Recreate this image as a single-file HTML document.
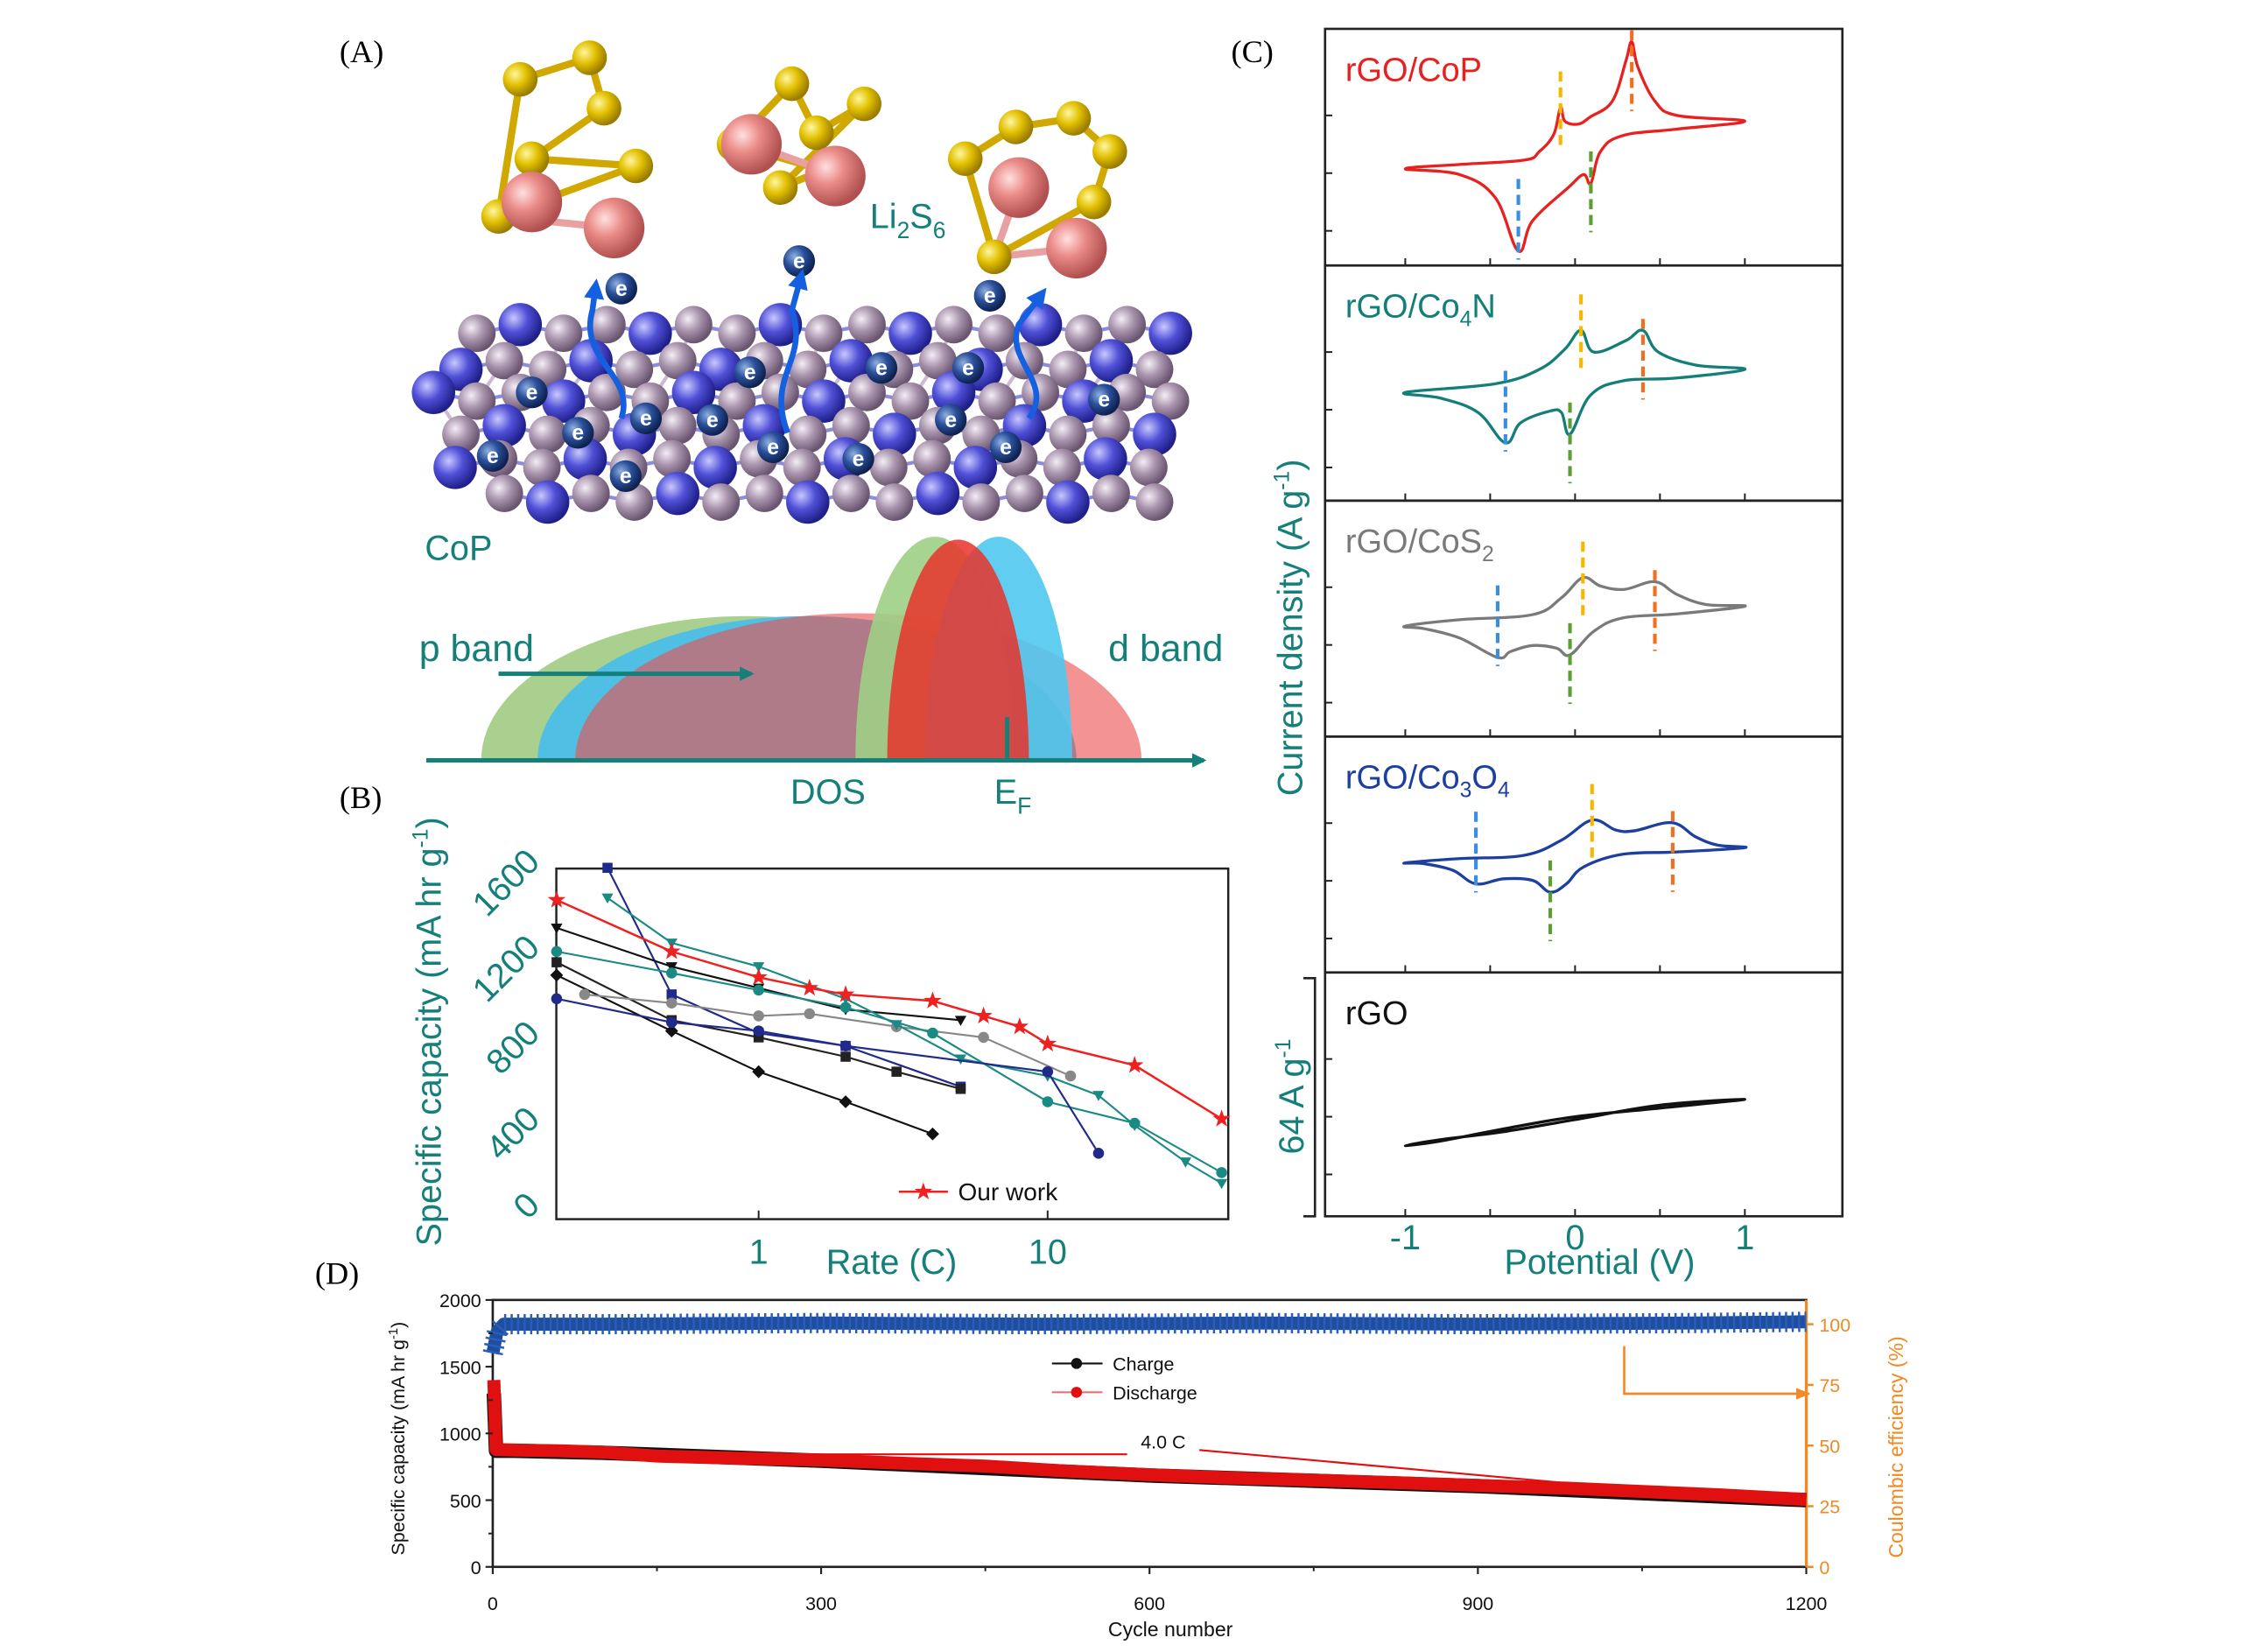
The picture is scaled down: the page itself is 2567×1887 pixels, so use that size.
<!DOCTYPE html>
<html><head><meta charset="utf-8">
<style>
html,body{margin:0;padding:0;background:#fff;}
svg{display:block;}
text{font-family:"Liberation Sans",sans-serif;}
.tnr{font-family:"Liberation Serif",serif;}
</style></head>
<body>
<svg id="fig" xmlns="http://www.w3.org/2000/svg" width="2567" height="1887" viewBox="0 0 1555 1145" preserveAspectRatio="none">
<defs>
<radialGradient id="gY" cx="35%" cy="35%" r="65%"><stop offset="0" stop-color="#fff6a0"/><stop offset="0.5" stop-color="#e2c000"/><stop offset="1" stop-color="#9a7c00"/></radialGradient>
<radialGradient id="gP" cx="35%" cy="35%" r="65%"><stop offset="0" stop-color="#ffe0e0"/><stop offset="0.45" stop-color="#ea8a86"/><stop offset="1" stop-color="#b05050"/></radialGradient>
<radialGradient id="gM" cx="35%" cy="35%" r="65%"><stop offset="0" stop-color="#f4eef6"/><stop offset="0.5" stop-color="#a994ad"/><stop offset="1" stop-color="#6a5570"/></radialGradient>
<radialGradient id="gB" cx="35%" cy="35%" r="65%"><stop offset="0" stop-color="#c8c8ff"/><stop offset="0.5" stop-color="#5050d8"/><stop offset="1" stop-color="#20208a"/></radialGradient>
<radialGradient id="gE" cx="35%" cy="35%" r="65%"><stop offset="0" stop-color="#8fb0e0"/><stop offset="0.5" stop-color="#2a4f9a"/><stop offset="1" stop-color="#0e2250"/></radialGradient>
<marker id="arrTeal" markerWidth="10" markerHeight="10" refX="8" refY="5" orient="auto" markerUnits="userSpaceOnUse"><path d="M0,0 L10,5 L0,10 Z" fill="#15807a"/></marker>
<marker id="arrOr" markerWidth="10" markerHeight="8" refX="9" refY="4" orient="auto" markerUnits="userSpaceOnUse"><path d="M0,0 L10,4 L0,8 Z" fill="#f08a24"/></marker>
<marker id="arrBlue" markerWidth="14" markerHeight="14" refX="7" refY="7" orient="auto" markerUnits="userSpaceOnUse"><path d="M0,0 L14,7 L0,14 Z" fill="#1560e0"/></marker>
</defs>

<text class="tnr" x="235" y="43" font-size="22">(A)</text>
<text class="tnr" x="235" y="560" font-size="22">(B)</text>
<text class="tnr" x="852" y="43" font-size="22">(C)</text>
<text class="tnr" x="218" y="890" font-size="22">(D)</text>

<g id="panelA"></g>
<g id="panelB"></g>
<g id="panelC"></g>
<g id="panelD"></g>
</svg>

<script>
const NS="http://www.w3.org/2000/svg";
function mk(parent,tag,attrs,txt){const e=document.createElementNS(NS,tag);for(const k in attrs)e.setAttribute(k,attrs[k]);if(txt!==undefined)e.textContent=txt;parent.appendChild(e);return e;}

/* ================= Panel B data ================= */
const rateOurWork=[0.2,0.5,1,1.5,2,4,6,8,10,20,40];
const capOurWork=[1440,1200,1080,1030,1000,970,900,850,770,670,420];
const rateRefs=[
 [0.3,0.5,1,2,5],
 [0.2,0.5,1,2,5],
 [0.2,0.5,1,2,4],
 [0.2,0.5,1,2,3,5],
 [0.25,0.5,1,1.5,3,6,12],
 [0.3,0.5,1,2,3,5,10,15,20,30,40],
 [0.2,0.5,1,2,4,10,20,40],
 [0.2,0.5,1,2,10,15]
];
const capRefs=[
 [1590,1000,820,760,570],
 [1310,1130,1030,930,880],
 [1090,830,640,500,350],
 [1150,880,800,710,640,560],
 [1000,960,900,910,850,800,620],
 [1450,1240,1130,980,860,700,620,530,390,220,120],
 [1200,1100,1020,940,820,500,400,170],
 [980,870,830,760,640,260]
];
const refColors=["#1f2a8a","#111111","#111111","#222222","#888888","#1a8a84","#1a8a84","#1f2a8a"];
const refMarkers=["square","tri","diamond","square","circle","tri","circle","circle"];
const bTicksX=[1,10];
const bTicksY=[0,400,800,1200,1600];

/* ================= Panel C data ================= */
const cvLabels=["rGO/CoP","rGO/Co4N","rGO/CoS2","rGO/Co3O4","rGO"];
const cvPotCoP=[-1,-0.68,-0.47,-0.334,-0.25,-0.04,0.05,0.093,0.15,0.28,0.6,1,0.6,0.47,0.37,0.334,0.30,0.22,0.09,0.02,-0.06,-0.086,-0.125,-0.21,-0.3,-0.68,-1];
const cvCurCoP=[3,-1,-17,-54,-33,-10,-1,-7,15,26,30.5,36,40,50,73.5,91,78,50,39,34,36,45.5,27,15,9,6,3];
const cvPotCo4N=[-1,-0.47,-0.21,-0.06,0.035,0.11,0.30,0.40,0.49,0.71,1,0.6,0.28,0.09,-0.03,-0.08,-0.15,-0.32,-0.41,-0.57,-0.79,-1];
const cvCurCo4N=[12,18,28,42,55,40,48,55,40,31,28,22,20,10,-17,-2,-1,-9,-23,-2,8,12];
const cvPotCoS2=[-1,-0.68,-0.25,-0.08,0.046,0.15,0.29,0.47,0.6,0.77,1,0.6,0.28,0.11,-0.03,-0.11,-0.25,-0.38,-0.456,-0.68,-0.89,-1];
const cvCurCoS2=[13,17.5,21,32.7,46.6,40.8,38.5,43.8,35,28,26.8,21.5,18.7,9.4,-6.9,-2.2,-0.4,-4.6,-8.7,4.8,11.3,13];
const cvPotCo3O4=[-1,-0.68,-0.30,-0.08,0.10,0.24,0.35,0.57,0.71,0.84,1,0.6,0.28,0.05,-0.05,-0.146,-0.25,-0.42,-0.584,-0.72,-0.89,-1];
const cvCurCo3O4=[12.4,15.4,17.7,28.2,42.1,35.2,34.7,40.3,30.5,24.7,23,20,18.4,9.6,-2,-7.9,0.3,1.4,-2.1,7.3,11.9,12.4];
const cvPotRGO=[-1,-0.8,-0.4,0,0.5,1,0.5,0,-0.4,-0.8,-1];
const cvCurRGO=[-20,-17,-8,0,6,12,8,-2,-10,-16,-20];
const peakYellow=[-0.086,0.035,0.046,0.10];
const peakOrange=[0.334,0.40,0.47,0.575];
const peakBlue=[-0.334,-0.41,-0.456,-0.584];
const peakGreen=[0.093,-0.03,-0.03,-0.146];
const cTicksX=[-1,0,1];

/* ================= Panel D data ================= */
const cycleDis=[1,3,20,60,100,150,220,300,380,450,520,600,680,750,830,900,980,1050,1120,1200];
const capDis=[1400,880,875,870,860,830,815,800,775,755,720,690,665,650,630,610,590,565,540,505];
const cycleCha=[1,3,20,100,300,600,900,1200];
const capCha=[1300,870,870,855,795,685,605,500];
const cycleCE=[0,4,10,100,300,500,700,900,1100,1200];
const ceVals=[88,97,100,100,100.5,100,100.5,100,100.5,101];
const dTicksX=[0,300,600,900,1200];
const dTicksYL=[0,500,1000,1500,2000];
const dTicksYR=[0,25,50,75,100];

function smoothPath(pts,closed){
  let d="M"+pts[0][0].toFixed(2)+","+pts[0][1].toFixed(2);
  const n=pts.length;
  for(let i=0;i<n-1;i++){
    const p0=pts[i>0?i-1:(closed?n-2:i)],p1=pts[i],p2=pts[i+1],p3=pts[i+2<n?i+2:(closed?1:i+1)];
    const t=0.18;
    const c1=[p1[0]+(p2[0]-p0[0])*t,p1[1]+(p2[1]-p0[1])*t];
    const c2=[p2[0]-(p3[0]-p1[0])*t,p2[1]-(p3[1]-p1[1])*t];
    d+=" C"+c1[0].toFixed(2)+","+c1[1].toFixed(2)+" "+c2[0].toFixed(2)+","+c2[1].toFixed(2)+" "+p2[0].toFixed(2)+","+p2[1].toFixed(2);
  }
  return d;
}

/* ================= Panel A ================= */
(function(){
  const g=document.getElementById('panelA');
  const base=527;
  function half(x1,x2,h,fill,op,name){
    const rx=(x2-x1)/2;
    const p=mk(g,'path',{d:`M${x1},${base} A${rx},${h} 0 0 1 ${x2},${base} Z`,fill:fill,'fill-opacity':op});
    
    
  }
  half(333,700,100,'#a9d08e',1,'p-band-green');
  half(372,745,100,'#4fc0e4',1,'p-band-blue');
  half(398,790,102,'#ec5050',0.62,'p-band-red');
  half(592,702,155,'#9fcf86',0.9,'d-band-green');
  half(640,742,155,'#4fc8f0',0.9,'d-band-blue');
  half(614,712,153,'#e8322a',0.85,'d-band-red');
  const ax=mk(g,'line',{x1:295,y1:base,x2:833,y2:base,stroke:'#15807a','stroke-width':3,'marker-end':'url(#arrTeal)'});
  
  const ar=mk(g,'line',{x1:345,y1:467,x2:520,y2:467,stroke:'#15807a','stroke-width':3,'marker-end':'url(#arrTeal)'});
  
  const ef=mk(g,'line',{x1:697,y1:497,x2:697,y2:527,stroke:'#15807a','stroke-width':3});
  
  let t;
  t=mk(g,'text',{x:290,y:458,'font-size':26,fill:'#15807a'},'p band');
  t=mk(g,'text',{x:767,y:458,'font-size':26,fill:'#15807a'},'d band');
  t=mk(g,'text',{x:547,y:557,'font-size':24,fill:'#15807a'},'DOS');
  t=mk(g,'text',{x:688,y:557,'font-size':24,fill:'#15807a'},'E');
  mk(t,'tspan',{dy:7,'font-size':16},'F');
  t=mk(g,'text',{x:294,y:388,'font-size':24,fill:'#15807a'},'CoP');
  t=mk(g,'text',{x:602,y:158,'font-size':24,fill:'#15807a'},'Li');
  mk(t,'tspan',{dy:7,'font-size':16},'2');mk(t,'tspan',{dy:-7},'S');mk(t,'tspan',{dy:7,'font-size':16},'6');

  const slab=mk(g,'g',{});
  
  const bonds=mk(slab,'g',{stroke:'#7070d8','stroke-width':2.5,opacity:0.8});
  const rows=[[225,330,820,0],[250,305,825,1],[272,300,830,0],[295,305,825,1],[318,315,815,0],[342,335,800,1]];
  const atoms=[];
  rows.forEach((r,ri)=>{
    for(let x=r[1]+(ri%2)*14;x<=r[2];x+=30){
      const blue=((Math.round(x/30)+ri)%3===0);
      atoms.push([x,r[0]+((Math.round(x/30))%2)*6,blue]);
    }
  });
  atoms.forEach((a,i)=>{const b=atoms[i+1];if(b&&Math.abs(b[1]-a[1])<15)mk(bonds,'line',{x1:a[0],y1:a[1],x2:b[0],y2:b[1]});
    const c=atoms.find(q=>q[1]>a[1]+12&&Math.abs(q[0]-a[0])<20);if(c)mk(bonds,'line',{x1:a[0],y1:a[1],x2:c[0],y2:c[1],stroke:'#c0a8c8'});});
  atoms.forEach(a=>mk(slab,'circle',{cx:a[0],cy:a[1],r:a[2]?15:13,fill:a[2]?'url(#gB)':'url(#gM)'}));
  const els=[[368,272],[400,300],[447,290],[493,291],[341,316],[433,330],[519,258],[535,310],[594,318],[610,255],[670,255],[658,291],[696,310],[764,277],[430,200],[553,181],[685,205]];
  els.forEach(p=>{mk(slab,'circle',{cx:p[0],cy:p[1],r:11,fill:'url(#gE)'});
    mk(slab,'text',{x:p[0],y:p[1]+5,'font-size':15,'font-weight':'bold',fill:'#fff','text-anchor':'middle','font-family':'Liberation Serif,serif'},'e');});
  ['M430,290 C440,260 400,250 410,215 L412,200','M545,300 C530,260 560,250 548,215 L554,193','M712,290 C730,265 695,250 705,225 L720,205'].forEach(d=>{
    mk(slab,'path',{d:d,fill:'none',stroke:'#1560e0','stroke-width':4,'marker-end':'url(#arrBlue)'});
  });

  const mol=mk(g,'g',{});
  
  const mols=[
    {S:[[360,55],[408,40],[418,75],[368,110],[440,115],[345,150]],L:[[368,140],[425,158]]},
    {S:[[508,100],[548,58],[565,92],[598,72],[540,130],[570,118]],L:[[520,100],[578,122]]},
    {S:[[668,110],[703,88],[743,82],[768,105],[757,140],[688,178]],L:[[705,130],[745,172]]}
  ];
  mols.forEach(m=>{
    for(let i=0;i<m.S.length;i++){const a=m.S[i],b=m.S[(i+1)%m.S.length];mk(mol,'line',{x1:a[0],y1:a[1],x2:b[0],y2:b[1],stroke:'#d0a800','stroke-width':5});}
    m.L.forEach(l=>{const s=m.S[m.S.length-1];mk(mol,'line',{x1:l[0],y1:l[1],x2:s[0],y2:s[1],stroke:'#e8a0a0','stroke-width':5});});
    m.S.forEach(s=>mk(mol,'circle',{cx:s[0],cy:s[1],r:12,fill:'url(#gY)'}));
    m.L.forEach(s=>mk(mol,'circle',{cx:s[0],cy:s[1],r:21,fill:'url(#gP)'}));
  });
})();

/* ================= Panel B ================= */
(function(){
  const g=document.getElementById('panelB');
  const X0=385,X1=850,Y0=602,Y1=845;
  const xs=r=>525+200*Math.log10(r);
  const ys=c=>838-c*(838-600)/1600;
  const box=mk(g,'rect',{x:X0,y:Y0,width:X1-X0,height:Y1-Y0,fill:'none',stroke:'#222','stroke-width':1.5});
  
  function marker(par,type,x,y,col){
    let e;
    if(type==='square')e=mk(par,'rect',{x:x-3.5,y:y-3.5,width:7,height:7,fill:col});
    else if(type==='diamond')e=mk(par,'path',{d:`M${x},${y-4.5}L${x+4.5},${y}L${x},${y+4.5}L${x-4.5},${y}Z`,fill:col});
    else if(type==='tri')e=mk(par,'path',{d:`M${x-4},${y-3}L${x+4},${y-3}L${x},${y+4}Z`,fill:col});
    else if(type==='star'){let d='';for(let k=0;k<10;k++){const rr=k%2?2.6:6.5,an=-Math.PI/2+k*Math.PI/5;d+=(k?'L':'M')+(x+rr*Math.cos(an)).toFixed(2)+','+(y+rr*Math.sin(an)).toFixed(2);}e=mk(par,'path',{d:d+'Z',fill:col});}
    else e=mk(par,'circle',{cx:x,cy:y,r:3.8,fill:col});
    return e;
  }
  rateRefs.forEach((rs,i)=>{
    const sg=mk(g,'g',{});
    
    
    mk(sg,'polyline',{points:rs.map((r,j)=>xs(r)+','+ys(capRefs[i][j])).join(' '),fill:'none',stroke:refColors[i],'stroke-width':1.3});
    rs.forEach((r,j)=>marker(sg,refMarkers[i],xs(r),ys(capRefs[i][j]),refColors[i]));
  });
  const og=mk(g,'g',{});
  
  
  mk(og,'polyline',{points:rateOurWork.map((r,j)=>xs(r)+','+ys(capOurWork[j])).join(' '),fill:'none',stroke:'#ee2020','stroke-width':1.5});
  rateOurWork.forEach((r,j)=>marker(og,'star',xs(r),ys(capOurWork[j]),'#ee2020'));
  const lg=mk(g,'g',{});
  
  
  mk(lg,'line',{x1:622,y1:826,x2:656,y2:826,stroke:'#ee2020','stroke-width':1.5});
  marker(lg,'star',639,826,'#ee2020');
  mk(lg,'text',{x:663,y:832,'font-size':17,fill:'#111'},'Our work');
  bTicksX.forEach(v=>{
    mk(g,'line',{x1:xs(v),y1:Y1,x2:xs(v),y2:Y1-6,stroke:'#222','stroke-width':1.2});
    const t=mk(g,'text',{x:xs(v),y:876,'font-size':24,fill:'#15807a','text-anchor':'middle'},String(v));
    
  });
  bTicksY.forEach(v=>{
    const t=mk(g,'text',{x:372,y:ys(v)+8,'font-size':24,fill:'#15807a','text-anchor':'end',transform:`rotate(-45 ${372-10} ${ys(v)})`},String(v));
    
  });
  let t=mk(g,'text',{x:617,y:883,'font-size':24,fill:'#15807a','text-anchor':'middle'},'Rate (C)');
  
  t=mk(g,'text',{x:0,y:0,'font-size':24,fill:'#15807a','text-anchor':'middle',transform:'translate(305,715) rotate(-90)'},'Specific capacity (mA hr g');
  mk(t,'tspan',{dy:-9,'font-size':15},'-1');mk(t,'tspan',{dy:9},')');
  
})();

/* ================= Panel C ================= */
(function(){
  const g=document.getElementById('panelC');
  const L=917,R=1275;
  const tops=[20,184,347,510.5,674],bots=[184,347,510.5,674,843];
  const xp=v=>1090+117.5*v;
  const pots=[cvPotCoP,cvPotCo4N,cvPotCoS2,cvPotCo3O4,cvPotRGO];
  const curs=[cvCurCoP,cvCurCo4N,cvCurCoS2,cvCurCo3O4,cvCurRGO];
  const cols=['#e8201e','#137f78','#7a7a7a','#1c3fa0','#111111'];
  for(let i=0;i<5;i++){
    const pg=mk(g,'g',{});
    
    
    const base=tops[i]+100;
    const yc=c=>base-c;
    mk(pg,'rect',{x:L,y:tops[i],width:R-L,height:bots[i]-tops[i],fill:'none',stroke:'#222','stroke-width':1.6});
    [-1,-0.5,0,0.5,1].forEach(v=>mk(pg,'line',{x1:xp(v),y1:bots[i],x2:xp(v),y2:bots[i]-5,stroke:'#222','stroke-width':1.2}));
    [-40,0,40].forEach(c=>mk(pg,'line',{x1:L,y1:yc(c),x2:L+5,y2:yc(c),stroke:'#222','stroke-width':1.2}));
    const pts=pots[i].map((v,j)=>[xp(v),yc(curs[i][j])]);
    const p=mk(pg,'path',{d:smoothPath(pts,true),fill:'none',stroke:cols[i],'stroke-width':2});
    
    
    if(i<4){
      const dl=(v,y1,y2,c)=>mk(pg,'line',{x1:xp(v),y1:y1,x2:xp(v),y2:y2,stroke:c,'stroke-width':2.5,'stroke-dasharray':'7,4'});
      const yY=Math.min(...pts.filter(q=>Math.abs(q[0]-xp(peakYellow[i]))<6).map(q=>q[1]));
      const yO=Math.min(...pts.filter(q=>Math.abs(q[0]-xp(peakOrange[i]))<6).map(q=>q[1]));
      const yB=Math.max(...pts.filter(q=>Math.abs(q[0]-xp(peakBlue[i]))<6).map(q=>q[1]));
      const yG=Math.max(...pts.filter(q=>Math.abs(q[0]-xp(peakGreen[i]))<6).map(q=>q[1]));
      dl(peakYellow[i],yY-25,yY+30,'#f5b800');
      dl(peakOrange[i],yO-8,yO+48,'#f07020');
      dl(peakBlue[i],yB-50,yB+6,'#3a8ee0');
      dl(peakGreen[i],yG-22,yG+34,'#5aa030');
    }
    const t=mk(pg,'text',{x:931,y:tops[i]+36,'font-size':23,fill:cols[i]},'');
    
    
    const lab=cvLabels[i];
    if(lab==='rGO/Co3O4'){t.textContent='rGO/Co';mk(t,'tspan',{dy:6,'font-size':15},'3');mk(t,'tspan',{dy:-6},'O');mk(t,'tspan',{dy:6,'font-size':15},'4');}
    else if(lab==='rGO/Co4N'){t.textContent='rGO/Co';mk(t,'tspan',{dy:6,'font-size':15},'4');mk(t,'tspan',{dy:-6},'N');}
    else if(lab==='rGO/CoS2'){t.textContent='rGO/CoS';mk(t,'tspan',{dy:6,'font-size':15},'2');}
    else t.textContent=lab;
  }
  const br=mk(g,'path',{d:'M902,678 L910,678 L910,843 L902,843',fill:'none',stroke:'#222','stroke-width':1.6});
  
  let t=mk(g,'text',{x:0,y:0,'font-size':24,fill:'#15807a','text-anchor':'middle',transform:'translate(902,760) rotate(-90)'},'64 A g');
  mk(t,'tspan',{dy:-9,'font-size':15},'-1');
  
  t=mk(g,'text',{x:0,y:0,'font-size':24,fill:'#15807a','text-anchor':'middle',transform:'translate(901,435) rotate(-90)'},'Current density (A g');
  mk(t,'tspan',{dy:-9,'font-size':15},'-1');mk(t,'tspan',{dy:9},')');
  
  cTicksX.forEach(v=>{
    const tt=mk(g,'text',{x:xp(v),y:866,'font-size':24,fill:'#15807a','text-anchor':'middle'},v<0?'-'+Math.abs(v):String(v));
    
  });
  t=mk(g,'text',{x:1107,y:883,'font-size':24,fill:'#15807a','text-anchor':'middle'},'Potential (V)');
  
})();

/* ================= Panel D ================= */
(function(){
  const g=document.getElementById('panelD');
  const X0=341,X1=1250,Y0=901,Y1=1086;
  const xs=c=>X0+(X1-X0)*c/1200;
  const yl=v=>Y1-(Y1-Y0)*v/2000;
  const yr=v=>Y1-(Y1-Y0)*v/110;
  mk(g,'rect',{x:X0,y:Y0,width:X1-X0,height:Y1-Y0,fill:'none',stroke:'#222','stroke-width':1.6});
  mk(g,'line',{x1:X1,y1:Y0,x2:X1,y2:Y1,stroke:'#f08a24','stroke-width':2});
  const cePts=cycleCE.map((c,i)=>xs(c)+','+yr(ceVals[i])).join(' ');
  const ce=mk(g,'polyline',{points:cePts,fill:'none',stroke:'#1d4ea0','stroke-width':9,'stroke-linejoin':'round'});
  
  mk(g,'polyline',{points:cePts,fill:'none',stroke:'#2a5cb8','stroke-width':14,'stroke-dasharray':'1.5,3','stroke-linejoin':'round'});
  const ch=mk(g,'polyline',{points:cycleCha.map((c,i)=>xs(c)+','+yl(capCha[i])).join(' '),fill:'none',stroke:'#111','stroke-width':10,'stroke-linejoin':'round'});
  
  const dis=mk(g,'polyline',{points:cycleDis.map((c,i)=>xs(c)+','+yl(capDis[i])).join(' '),fill:'none',stroke:'#e01010','stroke-width':9,'stroke-linejoin':'round'});
  
  mk(g,'polyline',{points:`${xs(3)},1008 780,1008`,fill:'none',stroke:'#e01010','stroke-width':1.3});
  mk(g,'polyline',{points:`830,1005 1240,1042`,fill:'none',stroke:'#e01010','stroke-width':1.3});
  let t=mk(g,'text',{x:805,y:1004,'font-size':13,fill:'#111','text-anchor':'middle'},'4.0 C');
  
  const oa=mk(g,'polyline',{points:'1124,933 1124,966 1252,966',fill:'none',stroke:'#f08a24','stroke-width':1.6,'marker-end':'url(#arrOr)'});
  
  const lg=mk(g,'g',{});
  
  mk(lg,'line',{x1:728,y1:945,x2:763,y2:945,stroke:'#111','stroke-width':1.3});
  mk(lg,'circle',{cx:745,cy:945,r:3.8,fill:'#111'});
  mk(lg,'text',{x:770,y:950,'font-size':13,fill:'#111'},'Charge');
  mk(lg,'line',{x1:728,y1:965,x2:763,y2:965,stroke:'#f07070','stroke-width':1.3});
  mk(lg,'circle',{cx:745,cy:965,r:3.8,fill:'#e01010'});
  mk(lg,'text',{x:770,y:970,'font-size':13,fill:'#111'},'Discharge');
  dTicksX.forEach(v=>{
    mk(g,'line',{x1:xs(v),y1:Y1,x2:xs(v),y2:Y1+5,stroke:'#222','stroke-width':1.3});
    const tt=mk(g,'text',{x:xs(v),y:1116,'font-size':13,fill:'#111','text-anchor':'middle'},String(v));
    
  });
  [150,450,750,1050].forEach(v=>mk(g,'line',{x1:xs(v),y1:Y1,x2:xs(v),y2:Y1+3,stroke:'#222','stroke-width':1.2}));
  dTicksYL.forEach(v=>{
    mk(g,'line',{x1:X0,y1:yl(v),x2:X0-5,y2:yl(v),stroke:'#222','stroke-width':1.3});
    const tt=mk(g,'text',{x:X0-8,y:yl(v)+5,'font-size':13,fill:'#111','text-anchor':'end'},String(v));
    
  });
  [250,750,1250,1750].forEach(v=>mk(g,'line',{x1:X0,y1:yl(v),x2:X0-3,y2:yl(v),stroke:'#222','stroke-width':1.2}));
  dTicksYR.forEach(v=>{
    mk(g,'line',{x1:X1,y1:yr(v),x2:X1+5,y2:yr(v),stroke:'#f08a24','stroke-width':1.5});
    const tt=mk(g,'text',{x:X1+9,y:yr(v)+5,'font-size':13,fill:'#f08a24'},String(v));
    
  });
  t=mk(g,'text',{x:810,y:1134,'font-size':14,fill:'#111','text-anchor':'middle'},'Cycle number');
  
  t=mk(g,'text',{x:0,y:0,'font-size':13,fill:'#111','text-anchor':'middle',transform:'translate(280,997) rotate(-90)'},'Specific capacity (mA hr g');
  mk(t,'tspan',{dy:-5,'font-size':9},'-1');mk(t,'tspan',{dy:5},')');
  
  t=mk(g,'text',{x:0,y:0,'font-size':14,fill:'#f08a24','text-anchor':'middle',transform:'translate(1317,1003) rotate(-90)'},'Coulombic efficiency (%)');
  
})();
</script>
</body></html>
